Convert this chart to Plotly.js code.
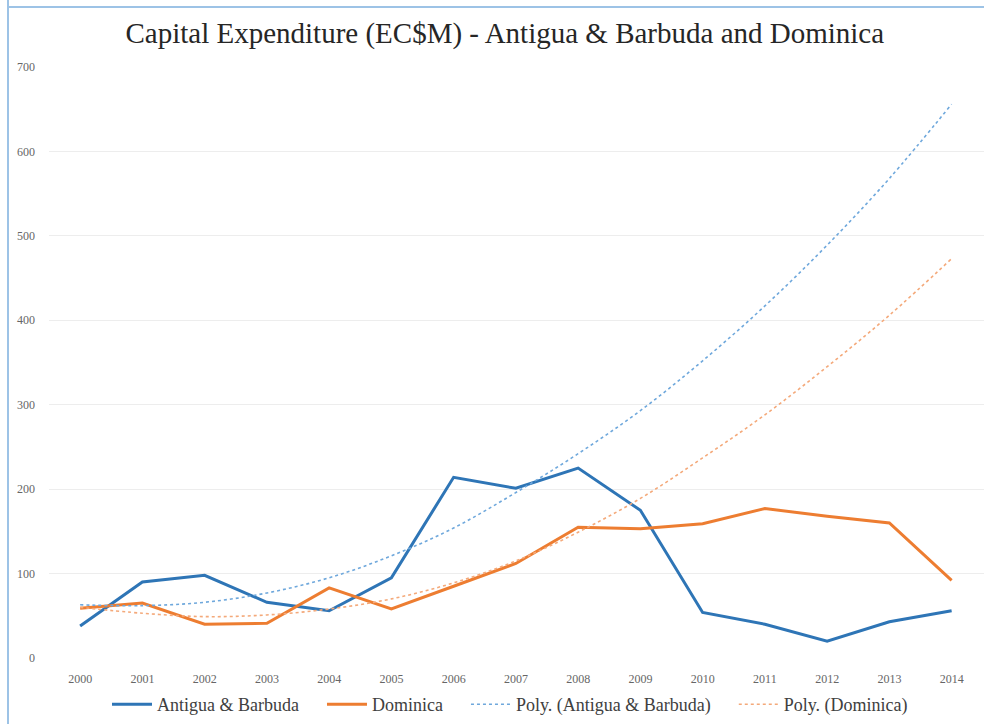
<!DOCTYPE html>
<html>
<head>
<meta charset="utf-8">
<script src="https://cdn.plot.ly/plotly-3.0.1.min.js"></script>
<style>html,body{margin:0;padding:0;background:#fff;}#chart{width:984px;height:724px;}</style>
</head>
<body>
<div id="chart"></div>
<script>
var years = [2000,2001,2002,2003,2004,2005,2006,2007,2008,2009,2010,2011,2012,2013,2014];
var antigua = [38,90,98,66,56,95,214,201,225,175,54,40,20,43,56];
var dominica = [59,65,40,41,83,58,85,112,155,153,159,177,168,160,92];
var polyAntigua = [63,62,66,77,95,121,154,196,242,293,352,417,489,568,656];
var polyDominica = [60,53,49,51,58,70,89,115,149,189,237,288,345,406,473];
var yTicks = [0,100,200,300,400,500,600,700];
var seriesNames = ["Antigua & Barbuda", "Dominica", "Poly. (Antigua & Barbuda)", "Poly. (Dominica)"];

var serif = "Liberation Serif, DejaVu Serif, serif";
var pad = "\u00a0\u00a0\u00a0\u00a0";

var traces = [
  {x: years, y: antigua, name: seriesNames[0] + pad, type: "scatter", mode: "lines",
   line: {color: "#2E75B6", width: 3}},
  {x: years, y: dominica, name: seriesNames[1] + pad, type: "scatter", mode: "lines",
   line: {color: "#ED7D31", width: 3}},
  {x: years, y: polyAntigua, name: seriesNames[2] + pad, type: "scatter", mode: "lines",
   line: {color: "#6FA8DC", width: 1.6, dash: "dot", shape: "spline"}},
  {x: years, y: polyDominica, name: seriesNames[3], type: "scatter", mode: "lines",
   line: {color: "#F4A97A", width: 1.6, dash: "dot", shape: "spline"}}
];

var layout = {
  width: 984, height: 724,
  paper_bgcolor: "#fff", plot_bgcolor: "#fff",
  margin: {l: 49, r: 0, t: 67, b: 66},
  title: {text: "Capital Expenditure (EC$M) - Antigua & Barbuda and Dominica",
          font: {family: serif, size: 29, color: "#262626"},
          x: 0.513, xanchor: "center", y: 0.955, yanchor: "middle"},
  xaxis: {type: "linear", range: [1999.5, 2014.52], tickvals: years, ticktext: years.map(String),
          showgrid: false, zeroline: false, showline: false, ticks: "", ticklabelstandoff: 12,
          tickfont: {family: serif, size: 12, color: "#666"}},
  yaxis: {range: [0, 700], tickvals: yTicks, showgrid: true, gridcolor: "#EDEDED", gridwidth: 1,
          zeroline: false, showline: false, ticks: "", ticklabelstandoff: 13,
          tickfont: {family: serif, size: 12, color: "#666"}},
  showlegend: true,
  legend: {orientation: "h", x: (107 - 49) / 935, xanchor: "left", y: -(723 - 658) / 591, yanchor: "bottom",
           font: {family: serif, size: 18, color: "#404040"}, itemwidth: 40, traceorder: "normal",
           bgcolor: "rgba(0,0,0,0)"},
  shapes: [
    {type: "line", xref: "paper", yref: "paper", x0: (8-49)/935, x1: (8-49)/935, y0: -1, y1: 1.2,
     line: {color: "#9DC3E6", width: 2}},
    {type: "line", xref: "paper", yref: "paper", x0: (8-49)/935, x1: 1.1, y0: (658-7)/591, y1: (658-7)/591,
     line: {color: "#9DC3E6", width: 2}}
  ]
};

Plotly.newPlot("chart", traces, layout, {displayModeBar: false, staticPlot: true});
</script>
</body>
</html>
